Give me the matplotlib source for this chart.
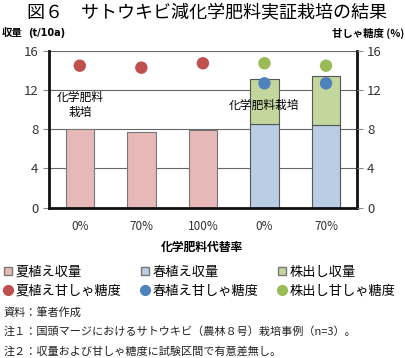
#!/usr/bin/env python3

import matplotlib.pyplot as plt
from matplotlib.lines import Line2D
from matplotlib.patches import Patch

plt.rcParams['font.family'] = ['Noto Sans CJK JP', 'DejaVu Sans']

categories = ['0%', '70%', '100%', '0%', '70%']
summer_yield = [8.0, 7.7, 7.9, 0, 0]
spring_yield = [0, 0, 0, 8.5, 8.4]
ratoon_yield = [0, 0, 0, 4.6, 5.05]
summer_brix = [14.5, 14.3, 14.75, None, None]
spring_brix = [None, None, None, 12.7, 12.7]
ratoon_brix = [None, None, None, 14.75, 14.5]

c_pink, c_blue, c_green = '#E6B9B8', '#B9CDE5', '#C3D69B'
d_red, d_blue, d_green = '#C0504D', '#4F81BD', '#9BBB59'


def main() -> None:
    fig = plt.figure(figsize=(4.05, 3.58), dpi=100)
    ax = fig.add_axes([0.121, 0.42, 0.76, 0.4375])
    x = list(range(len(categories)))
    w = 0.46

    ax.bar(x, summer_yield, w, color=c_pink, edgecolor='#777777', lw=0.8, zorder=2)
    ax.bar(x, spring_yield, w, color=c_blue, edgecolor='#555555', lw=0.8, zorder=2)
    ax.bar(x, ratoon_yield, w, bottom=spring_yield, color=c_green,
           edgecolor='#555555', lw=0.8, zorder=2)

    for vals, col in [(summer_brix, d_red), (spring_brix, d_blue), (ratoon_brix, d_green)]:
        xs = [i for i, v in zip(x, vals) if v is not None]
        ys = [v for v in vals if v is not None]
        ax.scatter(xs, ys, s=80, color=col, edgecolor='none', zorder=3)

    ax.set_xlim(-0.5, 4.5)
    ax.set_ylim(0, 16)
    ax.set_yticks([0, 4, 8, 12, 16])
    ax.set_xticks(x)
    ax.set_xticklabels(categories)
    ax.grid(axis='y', color='#666666', lw=0.8, zorder=1)
    for s in ['left', 'bottom', 'right']:
        ax.spines[s].set_linewidth(2)
        ax.spines[s].set_color('#111111')
    ax.spines['top'].set_visible(False)
    ax.tick_params(axis='y', length=4, color='#888888', labelsize=9.5, labelcolor='#333333')
    ax.tick_params(axis='x', length=0, labelsize=8.5, pad=9, labelcolor='#333333')

    ax2 = ax.twinx()
    ax2.set_ylim(0, 16)
    ax2.set_yticks([0, 4, 8, 12, 16])
    ax2.tick_params(axis='y', length=4, color='#888888', labelsize=9.5, labelcolor='#333333')
    for s in ax2.spines.values():
        s.set_visible(False)

    ax.text(0, 10.5, '化学肥料\n栽培', ha='center', va='center', fontsize=8.5,
            linespacing=1.3, zorder=4)
    ax.text(3.0, 10.5, '化学肥料栽培', ha='center', va='center', fontsize=8.5, zorder=4)

    fig.text(0.51, 0.966, '図６　サトウキビ減化学肥料実証栽培の結果', ha='center',
             va='center', fontsize=13)
    fig.text(0.005, 0.907, '収量', fontsize=7.5, fontweight='bold', va='center')
    fig.text(0.07, 0.907, '(t/10a)', fontsize=7, fontweight='bold', va='center',
             family='DejaVu Sans')
    fig.text(0.998, 0.907, '甘しゃ糖度 (%)', fontsize=7.5, fontweight='bold',
             va='center', ha='right')
    fig.text(0.5, 0.31, '化学肥料代替率', fontsize=8.5, fontweight='bold',
             ha='center', va='center')

    handles = [
        Patch(facecolor=c_pink, edgecolor='#777777'),
        Line2D([], [], marker='o', ls='', color=d_red, markersize=7),
        Patch(facecolor=c_blue, edgecolor='#777777'),
        Line2D([], [], marker='o', ls='', color=d_blue, markersize=7),
        Patch(facecolor=c_green, edgecolor='#777777'),
        Line2D([], [], marker='o', ls='', color=d_green, markersize=7),
    ]
    labels = ['夏植え収量', '夏植え甘しゃ糖度', '春植え収量', '春植え甘しゃ糖度',
              '株出し収量', '株出し甘しゃ糖度']
    fig.legend(handles, labels, ncol=3, loc='upper left', bbox_to_anchor=(-0.012, 0.283),
               frameon=False, fontsize=9.5, handlelength=0.6, handleheight=0.6,
               handletextpad=0.25, columnspacing=1.5, labelspacing=0.45,
               borderpad=0.2)

    notes = ['資料：筆者作成',
             '注１：国頭マージにおけるサトウキビ（農林８号）栽培事例（n=3）。',
             '注２：収量および甘しゃ糖度に試験区間で有意差無し。']
    for i, t in enumerate(notes):
        fig.text(0.008, 0.127 - i * 0.054, t, fontsize=8, va='center', color='#222222')

    fig.savefig('out.png', dpi=100)
    plt.close(fig)


if __name__ == '__main__':
    main()
